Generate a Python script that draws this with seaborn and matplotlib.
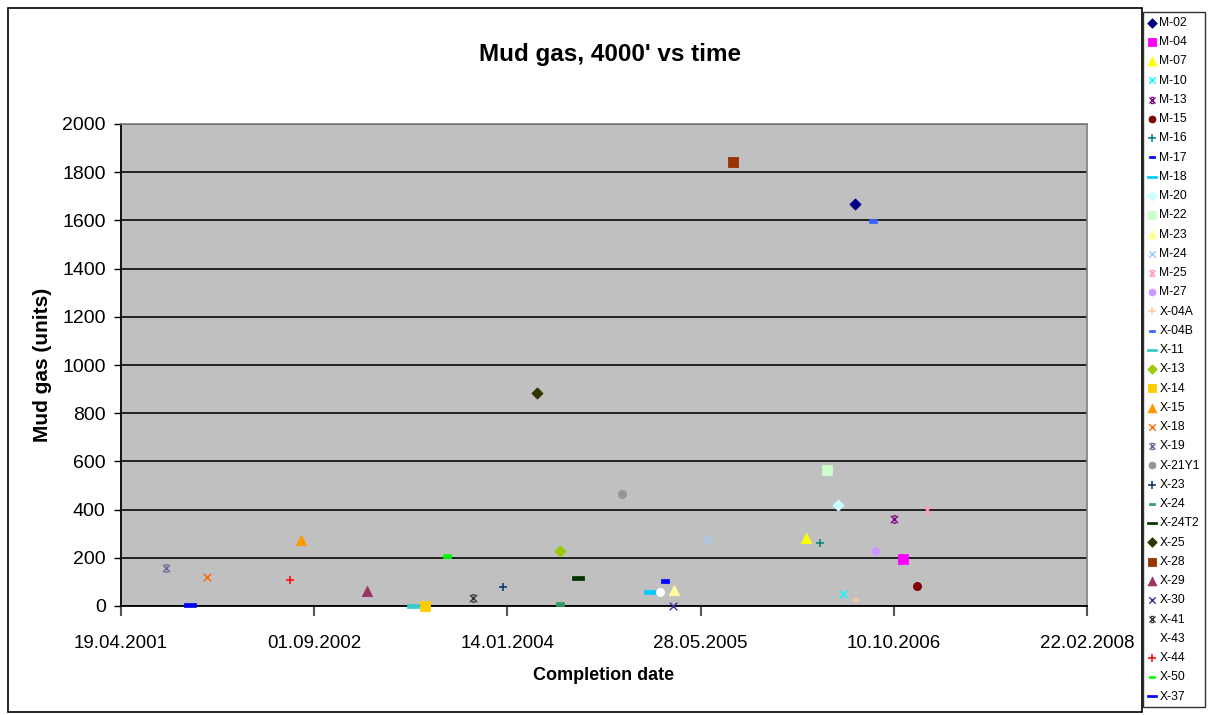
import numpy as np
import pandas as pd
import matplotlib
matplotlib.use("Agg")
import matplotlib.pyplot as plt
import matplotlib.dates as mdates
from matplotlib.path import Path
from matplotlib.patches import Rectangle
import seaborn as sns

# Wells, completion dates and mud gas at 4000 ft
wells = ["M-02", "M-04", "M-07", "M-10", "M-13", "M-15", "M-16", "M-17", "M-18",
         "M-20", "M-22", "M-23", "M-24", "M-25", "M-27", "X-04A", "X-04B", "X-11",
         "X-13", "X-14", "X-15", "X-18", "X-19", "X-21Y1", "X-23", "X-24", "X-24T2",
         "X-25", "X-28", "X-29", "X-30", "X-41", "X-43", "X-44", "X-50", "X-37"]
completion = ["2006-07-02", "2006-11-03", "2006-02-25", "2006-06-01", "2006-10-10",
              "2006-12-09", "2006-04-02", "2005-02-25", "2005-01-17", "2006-05-19",
              "2006-04-20", "2005-03-20", "2005-06-14", "2007-01-04", "2006-08-22",
              "2006-07-03", "2006-08-17", "2003-05-14", "2004-05-29", "2003-06-15",
              "2002-07-29", "2001-11-27", "2001-08-14", "2004-11-06", "2004-01-03",
              "2004-05-29", "2004-07-15", "2004-03-31", "2005-08-20", "2003-01-16",
              "2005-03-18", "2003-10-17", "2005-02-12", "2002-06-30", "2003-08-11",
              "2001-10-15"]
mud_gas = [1670, 195, 282, 50, 361, 83, 261, 104, 58, 419, 564, 66, 278, 398, 228,
           25, 1598, 0, 228, 2, 275, 120, 158, 465, 79, 8, 116, 884, 1843, 62, 0, 33,
           58, 108, 207, 3]

x_ticks = ["2001-04-19", "2002-09-01", "2004-01-14", "2005-05-28", "2006-10-10",
           "2008-02-22"]
y_ticks = list(range(0, 2001, 200))

# Series colours and marker cycle
colors = ["#000080", "#FF00FF", "#FFFF00", "#00FFFF", "#800080", "#800000",
          "#008080", "#0000FF", "#00CCFF", "#CCFFFF", "#CCFFCC", "#FFFF99",
          "#99CCFF", "#FF99CC", "#CC99FF", "#FFCC99", "#3366FF", "#33CCCC",
          "#99CC00", "#FFCC00", "#FF9900", "#FF6600", "#666699", "#969696",
          "#003366", "#339966", "#003300", "#333300", "#993300", "#993366",
          "#333399", "#333333", "#FFFFFF", "#FF0000", "#00FF00", "#0000FF"]

star = Path([(-1, -1), (1, 1), (-1, 1), (1, -1), (-0.5, 1), (0.5, 1),
             (-0.5, -1), (0.5, -1)],
            [Path.MOVETO, Path.LINETO, Path.MOVETO, Path.LINETO,
             Path.MOVETO, Path.LINETO, Path.MOVETO, Path.LINETO])
short_dash = Path([(-1, -0.45), (1, -0.45), (1, 0.45), (-1, 0.45), (-1, -0.45)],
                  [Path.MOVETO, Path.LINETO, Path.LINETO, Path.LINETO, Path.CLOSEPOLY])
long_dash = Path([(-1, -0.28), (1, -0.28), (1, 0.28), (-1, 0.28), (-1, -0.28)],
                 [Path.MOVETO, Path.LINETO, Path.LINETO, Path.LINETO, Path.CLOSEPOLY])

marker_cycle = [("D", 30, 0.8), ("s", 42, 0.6), ("^", 55, 0.6), ("x", 30, 1.0),
                (star, 26, 1.0), ("o", 34, 0.6), ("+", 36, 1.1),
                (short_dash, 30, 0.5), (long_dash, 70, 0.5)]

df = pd.DataFrame({"well": wells, "date": pd.to_datetime(completion),
                   "gas": mud_gas})

sns.set_theme(style="white")
plt.rcParams["font.family"] = ["Liberation Sans", "DejaVu Sans"]
plt.rcParams["text.color"] = "#000000"
plt.rcParams["axes.labelcolor"] = "#000000"
plt.rcParams["xtick.color"] = "#000000"
plt.rcParams["ytick.color"] = "#000000"

fig = plt.figure(figsize=(12.12, 7.15), dpi=100)
ax = fig.add_axes([121 / 1212, 1 - 606 / 715, (1087 - 121) / 1212, (606 - 124) / 715])
ax.set_facecolor("#C0C0C0")

for i, row in df.iterrows():
    mk, s, lw = marker_cycle[i % len(marker_cycle)]
    c = colors[i]
    sns.scatterplot(x=[row["date"]], y=[row["gas"]], ax=ax, marker=mk, s=s,
                    color=c, edgecolor=c, linewidth=lw, label=row["well"],
                    legend=False, zorder=3, clip_on=False)

ax.set_xlim(pd.Timestamp(x_ticks[0]), pd.Timestamp(x_ticks[-1]))
ax.set_ylim(0, 2000)
ax.set_xticks(pd.to_datetime(x_ticks))
ax.xaxis.set_major_formatter(mdates.DateFormatter("%d.%m.%Y"))
ax.set_yticks(y_ticks)
ax.yaxis.grid(True, color="#222222", linewidth=1.4, zorder=1)
ax.set_axisbelow(True)

for side in ("top", "right"):
    ax.spines[side].set_color("#808080")
    ax.spines[side].set_linewidth(1.2)
for side in ("left", "bottom"):
    ax.spines[side].set_color("#000000")
    ax.spines[side].set_linewidth(1.3)

ax.tick_params(axis="y", direction="out", length=5, width=1, color="#000000",
               labelcolor="#000000", labelsize=14, pad=6, left=True)
ax.tick_params(axis="x", direction="out", length=7, width=1.5, color="#555555",
               labelcolor="#000000", labelsize=13.5, pad=14, bottom=True)

ax.set_xlabel("")
ax.set_ylabel("")
fig.text(604 / 1212, 1 - 676 / 715, "Completion date", ha="center", va="center",
         fontsize=13, fontweight="bold", color="#000000")
fig.text(42 / 1212, 1 - 365 / 715, "Mud gas (units)", ha="center", va="center",
         rotation=90, fontsize=15, fontweight="bold", color="#000000")
fig.text(610 / 1212, 1 - 54 / 715, "Mud gas, 4000' vs time", ha="center",
         va="center", fontsize=17.5, fontweight="bold", color="#000000")

# Chart frame
fig.patches.append(Rectangle((8 / 1212, 3 / 715), (1142 - 8) / 1212, (707 - 3) / 715,
                             transform=fig.transFigure, fill=False,
                             edgecolor="#000000", linewidth=1.2))

handles, labels = ax.get_legend_handles_labels()
leg = fig.legend(handles, labels, loc="upper left",
                 bbox_to_anchor=(1143 / 1212, 1 - 12 / 715), frameon=True,
                 fancybox=False, edgecolor="#000000", fontsize=8.7,
                 handlelength=0.7, handletextpad=0.25, labelspacing=0.6,
                 borderpad=0.4, borderaxespad=0, markerscale=0.85)
leg.get_frame().set_linewidth(1.0)
for t in leg.get_texts():
    t.set_color("#000000")

fig.savefig("out.png", dpi=100)
